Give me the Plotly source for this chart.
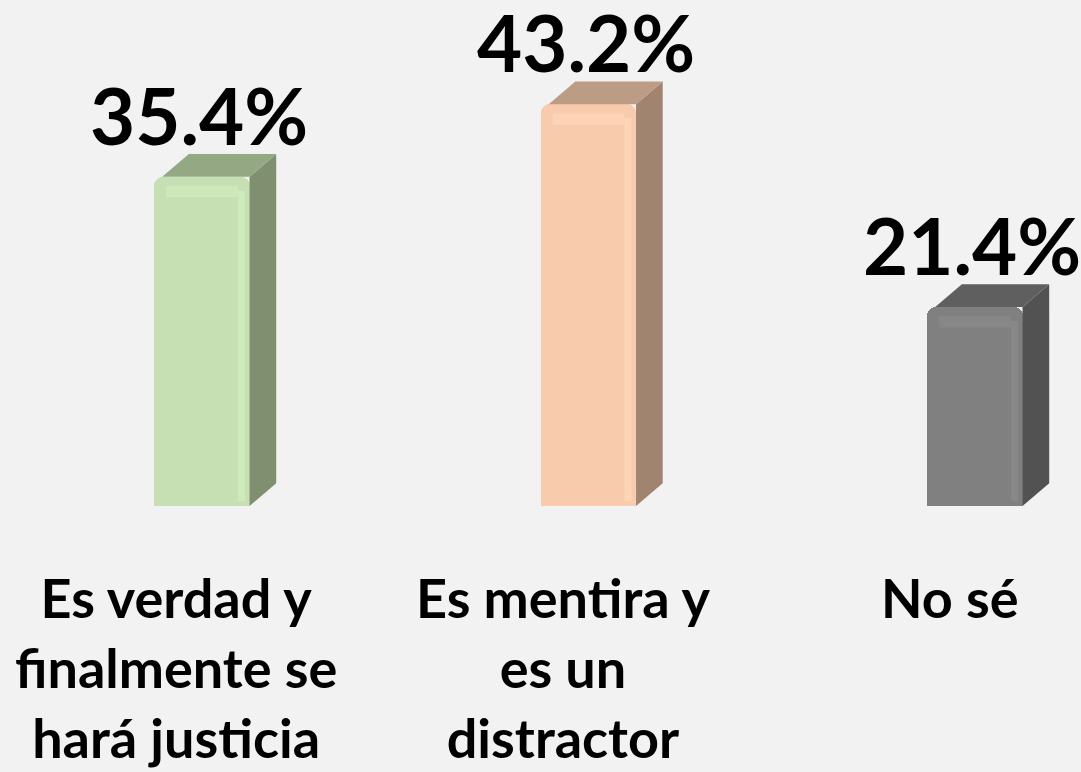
import plotly.graph_objects as go

categories = ["Es verdad y<br>finalmente se<br>hará justicia", "Es mentira y<br>es un<br>distractor", "No sé"]
values = [35.4, 43.2, 21.4]
value_labels = ["35.4%", "43.2%", "21.4%"]
front_colors = ["#c6e0b4", "#f8cbad", "#808080"]
side_colors = ["#7f8f6f", "#a08470", "#525252"]
top_colors = ["#94a883", "#bd9c86", "#5f5f5f"]
hi_colors = ["#d6f0c4", "#ffdcc0", "#8e8e8e"]

W = 0.246      # front face width (x units)
DX = 0.069     # depth offset in x units
DY = 2.45      # depth offset in y units
FONT = "Lato"

fig = go.Figure()
xs = list(range(len(values)))

# front faces
fig.add_trace(go.Bar(x=xs, y=values, width=W, marker=dict(color=front_colors, line=dict(width=0), cornerradius=9),
                     showlegend=False, hoverinfo="skip"))

for i, v in enumerate(values):
    r = i + W / 2
    l = i - W / 2
    # side face
    fig.add_trace(go.Scatter(x=[r, r + DX, r + DX, r, r], y=[0, DY, v + DY, v, 0], fill="toself",
                             fillcolor=side_colors[i], mode="lines", line=dict(width=0),
                             showlegend=False, hoverinfo="skip"))
    # top face
    fig.add_trace(go.Scatter(x=[l + 0.02, r, r + DX, l + DX + 0.02, l + 0.02], y=[v, v, v + DY, v + DY, v], fill="toself",
                             fillcolor=top_colors[i], mode="lines", line=dict(width=0),
                             showlegend=False, hoverinfo="skip"))
    # bevel highlights on front right edge and top edge
    fig.add_trace(go.Scatter(x=[r - 0.03, r - 0.012, r - 0.012, r - 0.03, r - 0.03], y=[0.5, 0.5, v - 1.5, v - 1.5, 0.5],
                             fill="toself", fillcolor=hi_colors[i], mode="lines", line=dict(width=0),
                             opacity=0.6, showlegend=False, hoverinfo="skip"))
    fig.add_trace(go.Scatter(x=[l + 0.03, r - 0.03, r - 0.03, l + 0.03, l + 0.03], y=[v - 1.0, v - 1.0, v - 2.2, v - 2.2, v - 1.0],
                             fill="toself", fillcolor=hi_colors[i], mode="lines", line=dict(width=0),
                             opacity=0.5, showlegend=False, hoverinfo="skip"))
    fig.add_annotation(x=i, y=v + DY, text=value_labels[i], showarrow=False, yanchor="bottom",
                       xshift=-3, yshift=-10, font=dict(family=FONT, size=78, color="#000000", weight="bold"))
    fig.add_annotation(x=i, y=0, text=categories[i], showarrow=False, yanchor="top",
                       xshift=-26, yshift=-57, align="center",
                       font=dict(family=FONT, size=54, color="#000000", weight="bold"))

px_per_x = 386.5
px_per_y = 9.3
x0 = -202 / px_per_x
x1 = x0 + 1081 / px_per_x
y1 = 506 / px_per_y
y0 = -(772 - 506) / px_per_y

fig.update_layout(
    width=1081, height=772,
    margin=dict(l=0, r=0, t=0, b=0),
    paper_bgcolor="#f2f2f2", plot_bgcolor="#f2f2f2",
    xaxis=dict(range=[x0, x1], visible=False, fixedrange=True),
    yaxis=dict(range=[y0, y1], visible=False, fixedrange=True),
    bargap=0,
)

fig.write_html("out.html", config={"displayModeBar": False},
               post_script="document.body.style.margin='0';document.body.style.background='#f2f2f2';")
